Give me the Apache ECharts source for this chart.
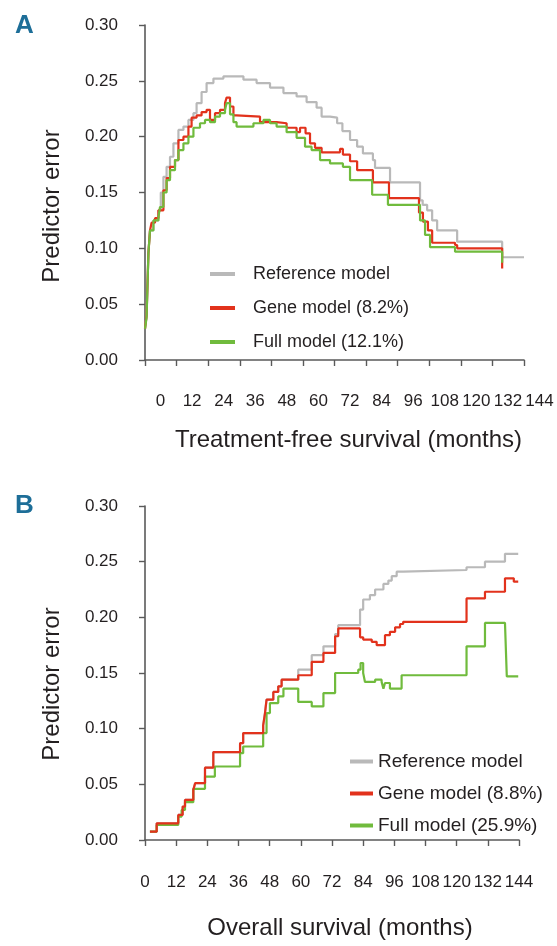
<!DOCTYPE html>
<html><head><meta charset="utf-8">
<script src="https://cdn.jsdelivr.net/npm/echarts@6/dist/echarts.min.js"></script>
<style>html,body{margin:0;padding:0;background:#fff}#c{width:557px;height:946px}</style>
</head><body><div id="c"></div>
<script>
// ---- data ----
const panelLabels = ['A', 'B'];
const xTitles = ['Treatment-free survival (months)', 'Overall survival (months)'];
const yTitle = 'Predictor error';
const xMin = 0, xMax = 144, xStep = 12;
const yMin = 0, yMax = 0.30, yStep = 0.05;
const namesA = ['Reference model', 'Gene model (8.2%)', 'Full model (12.1%)'];
const namesB = ['Reference model', 'Gene model (8.8%)', 'Full model (25.9%)'];

// Panel A (months, predictor error)
const refA = [[0,0.028],[0.6,0.04],[1.3,0.096],[1.9,0.116],[3.2,0.125],[5.1,0.134],[6,0.15],[7,0.164],[8.2,0.173],[9.5,0.182],[10.8,0.194],[12.7,0.206],[14.6,0.209],[16.5,0.215],[18.4,0.221],[19.6,0.230],[21.5,0.240],[23.4,0.248],[26,0.252],[29.8,0.254],[33.6,0.254],[37.4,0.251],[42.4,0.248],[47.5,0.244],[52.6,0.239],[57.6,0.236],[61.4,0.231],[65.2,0.226],[67.1,0.218],[70.3,0.217],[73,0.212],[75,0.205],[77.9,0.197],[80.6,0.191],[82.8,0.185],[86.6,0.179],[87.4,0.172],[93.1,0.159],[104.5,0.143],[105.5,0.139],[107.2,0.134],[109.1,0.125],[111,0.116],[118.6,0.106],[135.7,0.092],[144,0.092]];
const geneA = [[0,0.028],[0.6,0.04],[1.3,0.096],[1.9,0.116],[2.5,0.123],[3.8,0.127],[5.1,0.134],[7,0.152],[8.2,0.163],[9.5,0.173],[11.4,0.179],[12.7,0.197],[14.6,0.200],[16.5,0.209],[17.7,0.217],[19.6,0.219],[21.5,0.222],[23.4,0.224],[24.7,0.215],[26.6,0.221],[28.5,0.224],[30.4,0.230],[31,0.235],[32.3,0.227],[33.6,0.219],[34.8,0.218],[43.7,0.213],[50,0.212],[53.8,0.208],[57.6,0.204],[58.9,0.208],[61,0.203],[62.7,0.194],[64.6,0.190],[67.1,0.186],[73.3,0.186],[74.1,0.189],[75.2,0.184],[77.9,0.178],[80.6,0.170],[86.6,0.159],[92.7,0.145],[104.1,0.132],[105.6,0.124],[107.5,0.116],[109.1,0.105],[117.8,0.103],[118.6,0.100],[135.7,0.082]];
const fullA = [[0,0.028],[0.6,0.038],[1.3,0.096],[1.9,0.116],[3.2,0.125],[5.1,0.128],[5.7,0.137],[7,0.150],[8.2,0.161],[9.5,0.170],[11.4,0.179],[12.7,0.188],[14.6,0.194],[16.5,0.200],[18.4,0.208],[20.9,0.212],[22.8,0.215],[24.7,0.213],[26.6,0.218],[28.5,0.221],[30.4,0.224],[31,0.230],[32.3,0.220],[33.6,0.213],[34.8,0.209],[41.2,0.212],[45,0.215],[47.5,0.212],[50,0.209],[53.8,0.204],[57.6,0.199],[60.8,0.191],[63.3,0.188],[66.5,0.179],[70.3,0.176],[75.2,0.173],[77.9,0.161],[86.3,0.148],[92.3,0.139],[104.5,0.125],[106.4,0.112],[108.3,0.101],[117.8,0.097],[135.7,0.087]];

// Panel B
const refB = [[1.9,0.0075],[4.5,0.015],[12.8,0.0225],[14.5,0.030],[15.4,0.036],[18.6,0.045],[19.3,0.051],[23.1,0.065],[26.3,0.079],[36.6,0.087],[37.8,0.096],[45.5,0.103],[46.2,0.114],[46.8,0.126],[49.4,0.133],[51.3,0.138],[52.6,0.144],[59,0.153],[64.2,0.166],[68.7,0.174],[73.2,0.185],[74.4,0.193],[82.8,0.207],[84,0.216],[86.6,0.220],[88.6,0.225],[91.8,0.230],[93.7,0.233],[95,0.237],[96.9,0.241],[99.4,0.2425],[123.8,0.245],[130.9,0.250],[138.6,0.257],[143.7,0.257]];
const geneB = [[1.9,0.0075],[4.5,0.015],[12.8,0.0225],[14.5,0.030],[15.4,0.036],[18.6,0.045],[19.3,0.051],[23.1,0.065],[26.3,0.079],[36.6,0.087],[37.8,0.096],[45.5,0.103],[46.2,0.114],[46.8,0.126],[49.4,0.133],[51.3,0.138],[52.6,0.144],[59,0.148],[64.2,0.160],[68.7,0.168],[73.2,0.183],[74.4,0.190],[82.8,0.182],[84,0.180],[87.3,0.178],[89.2,0.175],[92.4,0.184],[94.3,0.187],[96.3,0.191],[98.2,0.194],[99.4,0.196],[123.8,0.217],[130.9,0.223],[138.6,0.235],[142,0.232],[143.7,0.232]];
const fullB = [[1.9,0.0075],[4.5,0.0135],[12.8,0.021],[14.1,0.027],[15.4,0.034],[18.6,0.046],[23.1,0.057],[26.9,0.066],[36.6,0.078],[37.8,0.084],[45.5,0.096],[46.8,0.114],[48.1,0.123],[51.3,0.129],[53.3,0.136],[59,0.124],[64.2,0.120],[68.7,0.132],[73.2,0.150],[82.1,0.153],[83.0,0.159],[84.0,0.150],[84.7,0.142],[88.6,0.144],[91.1,0.142],[91.8,0.136],[92.4,0.141],[94.3,0.136],[98.8,0.148],[123.8,0.174],[130.9,0.195],[138.6,0.195],[139.3,0.147],[143.7,0.147]];

// ---- style ----
const FONT = 'Liberation Sans';
const TXT = '#231f20';
const AX = '#5a5a5a';
const COLORS = ['#b9b9b9', '#e2321c', '#70bb3d'];

const chart = echarts.init(document.getElementById('c'), null, {renderer: 'canvas'});

function xAx(gi, offset, margin, labelShift, nameGap, nameShift) {
  return {
    type: 'value', gridIndex: gi, min: xMin, max: xMax, interval: xStep, offset: offset,
    axisLine: {show: true, lineStyle: {color: AX, width: 1.6}},
    axisTick: {show: true, length: 6, lineStyle: {color: AX, width: 1.4}},
    axisLabel: {margin: margin, fontFamily: FONT, fontSize: 17, color: TXT, padding: [0, 0, 0, labelShift], showMinLabel: true, showMaxLabel: true},
    splitLine: {show: false},
    name: xTitles[gi], nameLocation: 'middle', nameGap: nameGap,
    nameTextStyle: {fontFamily: FONT, fontSize: 24, color: TXT, padding: [0, 0, 0, nameShift]}
  };
}
function yAx(gi, offset, margin, nameGap, nameShift) {
  return {
    type: 'value', gridIndex: gi, min: yMin, max: yMax, interval: yStep, offset: offset,
    axisLine: {show: true, lineStyle: {color: AX, width: 1.6}},
    axisTick: {show: true, length: 6, lineStyle: {color: AX, width: 1.4}},
    axisLabel: {margin: margin, fontFamily: FONT, fontSize: 17, color: TXT, formatter: v => v.toFixed(2)},
    splitLine: {show: false},
    name: yTitle, nameLocation: 'middle', nameGap: nameGap,
    nameTextStyle: {fontFamily: FONT, fontSize: 24, color: TXT, padding: [0, nameShift, 0, 0]}
  };
}
function line(name, data, xi, color, z) {
  return {
    type: 'line', name: name, data: data, xAxisIndex: xi, yAxisIndex: xi, step: 'end',
    showSymbol: false, symbol: 'none', z: z,
    lineStyle: {color: color, width: 2.2}, itemStyle: {color: color}
  };
}

chart.setOption({
  animation: false,
  backgroundColor: '#ffffff',
  title: [
    {text: panelLabels[0], left: 10, top: 8, textStyle: {fontFamily: 'Liberation Sans Narrow, ' + FONT, fontWeight: 'bold', fontSize: 26, color: '#1d6e98'}},
    {text: panelLabels[1], left: 10, top: 488, textStyle: {fontFamily: 'Liberation Sans Narrow, ' + FONT, fontWeight: 'bold', fontSize: 26, color: '#1d6e98'}}
  ],
  grid: [
    {left: 145, right: 33, top: 25, height: 335},
    {left: 145, right: 38, top: 506, height: 334}
  ],
  xAxis: [xAx(0, 14, 19, 31, 54, 28), xAx(1, 13, 21, 0, 63, 16)],
  yAxis: [yAx(0, 17, 10, 64, 27), yAx(1, 15, 12, 66, 22)],
  legend: [
    {data: namesA, orient: 'vertical', left: 205, top: 260, itemWidth: 25, itemHeight: 4, itemGap: 16, icon: 'rect',
     textStyle: {fontFamily: FONT, fontSize: 18, color: TXT, padding: [0, 0, 0, 13]}},
    {data: namesB, orient: 'vertical', left: 345, top: 747, itemWidth: 23, itemHeight: 4, itemGap: 13, icon: 'rect',
     textStyle: {fontFamily: FONT, fontSize: 19, color: TXT}}
  ],
  series: [
    line(namesA[0], refA, 0, COLORS[0], 2),
    line(namesA[1], geneA, 0, COLORS[1], 3),
    line(namesA[2], fullA, 0, COLORS[2], 4),
    line(namesB[0], refB, 1, COLORS[0], 2),
    line(namesB[2], fullB, 1, COLORS[2], 3),
    line(namesB[1], geneB, 1, COLORS[1], 4)
  ]
});
</script></body></html>
